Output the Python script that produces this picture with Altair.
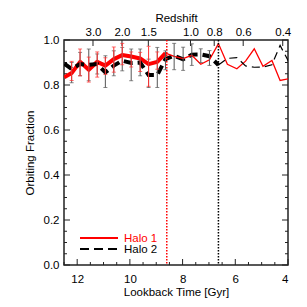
import altair as alt
import pandas as pd

# ---------------- data ----------------
lookback = [12.49, 12.21, 11.89, 11.56, 11.24, 10.93, 10.61, 10.29, 9.95, 9.61,
            9.29, 8.96, 8.65, 8.32, 7.98, 7.65, 7.31, 6.98, 6.64, 6.30,
            5.94, 5.61, 5.28, 4.95, 4.61, 4.30, 3.98]
halo1 = [0.834, 0.853, 0.903, 0.868, 0.903, 0.886, 0.915, 0.933, 0.927, 0.918,
         0.893, 0.903, 0.942, 0.927, 0.917, 0.932, 0.892, 0.912, 0.984, 0.892,
         0.872, 0.906, 0.961, 0.883, 0.909, 0.820, 0.828]
halo2 = [0.895, 0.871, 0.893, 0.890, 0.893, 0.856, 0.886, 0.908, 0.898, 0.900,
         0.844, 0.844, 0.915, 0.930, 0.914, 0.935, 0.936, 0.928, 0.889, 0.918,
         0.922, 0.885, 0.879, 0.880, 0.890, 0.976, 0.905]

halo1_err_time = [12.21, 11.89, 11.56, 11.24, 10.93, 10.61, 10.29, 9.95, 9.61, 9.29, 8.96]
halo1_lo = [0.820, 0.841, 0.813, 0.835, 0.847, 0.857, 0.890, 0.880, 0.860, 0.794, 0.870]
halo1_hi = [0.905, 0.960, 0.924, 0.947, 0.921, 0.969, 0.985, 0.947, 0.945, 0.972, 0.947]

halo2_err_time = [12.21, 11.89, 11.56, 11.24, 10.93, 10.61, 10.29, 9.95, 9.61, 9.29,
                  8.96, 8.65, 8.32, 7.98, 7.65, 7.31, 6.98]
halo2_lo = [0.810, 0.841, 0.819, 0.849, 0.789, 0.841, 0.863, 0.819, 0.841, 0.789,
            0.789, 0.868, 0.868, 0.865, 0.887, 0.900, 0.887]
halo2_hi = [0.900, 0.945, 0.960, 0.938, 0.930, 0.952, 0.967, 0.960, 0.960, 0.915,
            0.967, 0.952, 0.985, 0.968, 0.983, 0.961, 0.953]

halo1_split = 8.65
halo2_split = 6.64
marker_halo1 = [8.60]
marker_halo2 = [6.64]

series_names = ["Halo 1", "Halo 2"]

bottom_major = [12, 10, 8, 6, 4]
bottom_minor = [12.5, 11.5, 11, 10.5, 9.5, 9, 8.5, 7.5, 7, 6.5, 5.5, 5, 4.5]
left_major = [0.0, 0.2, 0.4, 0.6, 0.8, 1.0]
left_minor = [0.05, 0.1, 0.15, 0.25, 0.3, 0.35, 0.45, 0.5, 0.55,
              0.65, 0.7, 0.75, 0.85, 0.9, 0.95]
redshift_labels = ["3.0", "2.0", "1.5", "1.0", "0.8", "0.6", "0.4"]
redshift_time = [11.4, 10.3, 9.3, 7.7, 6.8, 5.7, 4.2]

# ---------------- tables ----------------
n = len(lookback)
lines = pd.DataFrame({
    "t": lookback + lookback,
    "v": halo1 + halo2,
    "halo": [series_names[0]] * n + [series_names[1]] * n,
})
err1 = pd.DataFrame({"t": halo1_err_time, "lo": halo1_lo, "hi": halo1_hi})
err2 = pd.DataFrame({"t": halo2_err_time, "lo": halo2_lo, "hi": halo2_hi})

W, H = 224, 225
FONT = "Liberation Sans"
FRAME = "#222222"
RED = "#ff0000"
BLACK = "#000000"

xs = alt.Scale(domain=[4, 12.5], reverse=True, nice=False, zero=False)
ys = alt.Scale(domain=[0, 1], nice=False, zero=False)

x_bottom_axis = alt.Axis(values=bottom_major, format="d", ticks=False, domain=False,
                         grid=False, labelPadding=8, title="Lookback Time [Gyr]",
                         titlePadding=2)
Y_AXIS = alt.Axis(values=left_major, format=".1f", ticks=False, domain=False,
                  grid=False, labelPadding=5, title="Orbiting Fraction",
                  titlePadding=8)

label_expr = "[{}][indexof([{}], datum.value)]".format(
    ",".join("'%s'" % s for s in redshift_labels),
    ",".join(str(v) for v in redshift_time))
x_top_axis = alt.Axis(orient="top", values=redshift_time, labelExpr=label_expr,
                      ticks=False, domain=False, grid=False, labelPadding=3,
                      title="Redshift", titlePadding=3)

def xf(field="t", axis=None):
    return alt.X(field + ":Q", scale=xs, axis=axis)

def yf(field="v"):
    return alt.Y(field + ":Q", scale=ys, axis=Y_AXIS)

# ---- inward ticks on all four sides ----
bmaj = pd.DataFrame({"t": bottom_major})
bmin = pd.DataFrame({"t": bottom_minor})
lmaj = pd.DataFrame({"v": left_major})
lmin = pd.DataFrame({"v": left_minor})
ztk = pd.DataFrame({"t": redshift_time})

tick_layers = [
    alt.Chart(bmaj).mark_rule(color=FRAME, strokeWidth=1).encode(
        x=xf(), y=alt.value(H), y2=alt.value(H - 6)),
    alt.Chart(bmin).mark_rule(color=FRAME, strokeWidth=1).encode(
        x=xf(), y=alt.value(H), y2=alt.value(H - 3)),
    alt.Chart(lmaj).mark_rule(color=FRAME, strokeWidth=1).encode(
        y=yf(), x=alt.value(0), x2=alt.value(6)),
    alt.Chart(lmin).mark_rule(color=FRAME, strokeWidth=1).encode(
        y=yf(), x=alt.value(0), x2=alt.value(3)),
    alt.Chart(lmaj).mark_rule(color=FRAME, strokeWidth=1).encode(
        y=yf(), x=alt.value(W), x2=alt.value(W - 6)),
    alt.Chart(lmin).mark_rule(color=FRAME, strokeWidth=1).encode(
        y=yf(), x=alt.value(W), x2=alt.value(W - 3)),
    alt.Chart(ztk).mark_rule(color=FRAME, strokeWidth=1).encode(
        x=xf(axis=x_top_axis), y=alt.value(0), y2=alt.value(6)),
]

# ---- lines ----
thick1 = alt.Chart(lines).transform_filter(
    "datum.halo == '%s' && datum.t >= %s" % (series_names[0], halo1_split)
).mark_line(strokeWidth=4, color=RED, clip=True, strokeJoin="round").encode(
    x=xf(axis=x_bottom_axis), y=yf())

thick2 = alt.Chart(lines).transform_filter(
    "datum.halo == '%s' && datum.t >= %s" % (series_names[1], halo2_split)
).mark_line(strokeWidth=4, color=BLACK, strokeDash=[9, 5], clip=True).encode(
    x=xf(), y=yf())

thin1 = alt.Chart(lines).transform_filter(
    "datum.halo == '%s' && datum.t <= %s" % (series_names[0], halo1_split)
).mark_line(strokeWidth=1.3, color=RED, clip=True).encode(x=xf(), y=yf())

thin2 = alt.Chart(lines).transform_filter(
    "datum.halo == '%s' && datum.t <= %s" % (series_names[1], halo2_split)
).mark_line(strokeWidth=1.2, color=BLACK, strokeDash=[8, 5], clip=True).encode(
    x=xf(), y=yf())

# ---- error bars ----
def errbars(df, color):
    bar = alt.Chart(df).mark_rule(color=color, strokeWidth=1).encode(
        x=xf(), y=yf("lo"), y2="hi:Q")
    cap_lo = alt.Chart(df).mark_tick(color=color, orient="horizontal", size=4,
                                     thickness=1).encode(x=xf(), y=yf("lo"))
    cap_hi = alt.Chart(df).mark_tick(color=color, orient="horizontal", size=4,
                                     thickness=1).encode(x=xf(), y=yf("hi"))
    return [bar, cap_lo, cap_hi]

# ---- vertical dotted markers ----
m1 = alt.Chart(pd.DataFrame({"t": marker_halo1})).mark_rule(
    color=RED, strokeWidth=1.5, strokeDash=[1.5, 1.5]).encode(x=xf())
m2 = alt.Chart(pd.DataFrame({"t": marker_halo2})).mark_rule(
    color=BLACK, strokeWidth=1.5, strokeDash=[1.5, 1.5]).encode(x=xf())

# ---- legend (drawn in the plot's lower-left corner) ----
leg = pd.DataFrame({"name": series_names})
leg_layers = []
for i, (name, col, dash) in enumerate(zip(series_names, [RED, BLACK], [[1, 0], [9, 5]])):
    yy = 198 + 11 * i
    sub = alt.Chart(leg).transform_filter("datum.name == '%s'" % name)
    leg_layers.append(sub.mark_rule(color=col, strokeWidth=2, strokeDash=dash).encode(
        x=alt.value(16), x2=alt.value(54), y=alt.value(yy)))
    leg_layers.append(sub.mark_text(color=col, align="left", baseline="middle",
                                    font=FONT, fontSize=11.5).encode(
        x=alt.value(60), y=alt.value(yy + 0.5), text="name:N"))

layers = tick_layers + [thick1, thick2, thin1, thin2] + errbars(err2, "#555555") + \
    errbars(err1, "#ff3030") + [m1, m2] + leg_layers

chart = alt.layer(*layers).resolve_axis(x="independent").properties(
    width=W, height=H,
    autosize=alt.AutoSizeParams(type="none"),
    padding={"left": 56, "top": 32, "right": 11, "bottom": 34},
).configure_view(stroke=FRAME, strokeWidth=1.5).configure_axis(
    labelFont=FONT, titleFont=FONT, labelFontSize=11.5, titleFontSize=11.5,
    titleFontWeight="normal", labelColor="#000000", titleColor="#000000",
)

chart.save("out.html", embed_options={"renderer": "svg", "actions": False})
